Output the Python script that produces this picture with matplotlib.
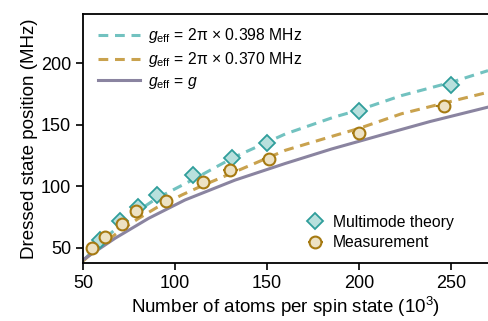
import numpy as np
import matplotlib
matplotlib.use('Agg')
import matplotlib.pyplot as plt

plt.rcParams['font.family'] = ['Liberation Sans', 'DejaVu Sans']
plt.rcParams['mathtext.fontset'] = 'custom'
plt.rcParams['mathtext.rm'] = 'Liberation Sans'
plt.rcParams['mathtext.it'] = 'Liberation Sans:italic'

# theory curves, N in 10^3, position in MHz
n_cyan = [50, 60, 70, 80, 90, 110, 132, 160, 186, 200, 223, 250, 270]
v_cyan = [39, 55, 68, 80, 90, 105.5, 123.5, 142.5, 156, 162, 173.7, 184.5, 194]

n_brown = [50, 60, 70, 80, 90, 104, 115, 130, 160, 187, 200, 223, 250, 270]
v_brown = [39, 52, 63.5, 73.5, 82.5, 93, 100.5, 110, 129.2, 141.3, 147, 158.9, 169, 176.4]

n_solid = [50, 67.5, 85.7, 105.4, 132.6, 159.8, 185, 211.4, 238.6, 270]
v_solid = [40, 57.6, 73.8, 88.7, 104.9, 118.4, 130.2, 141.3, 152.6, 164.3]

# multimode theory points
n_mm = [59, 70, 80, 90, 110, 131, 150, 200, 250]
v_mm = [56, 72, 83.4, 92.7, 108.9, 123, 135.2, 160.8, 182.7]

# measurement points
n_meas = [55, 62, 71, 79, 95, 115, 130, 151, 200, 246]
v_meas = [49.5, 58.4, 69.2, 79.7, 87.8, 103.5, 113.5, 121.7, 143.5, 165.6]
n_err = [2, 2, 2, 2, 3, 3, 4, 4, 4, 4]

c_cyan = '#72c2c0'
c_brown = '#c9a24e'
c_solid = '#8a84a0'

fig = plt.figure(figsize=(4.88, 3.21), dpi=100)
ax = fig.add_axes([0.170, 0.181, 0.830, 0.775])

l1, = ax.plot(n_cyan, v_cyan, '--', color=c_cyan, lw=2.2, dashes=(3.2, 2.2),
              label='$g_{\\mathrm{eff}}$ = 2π × 0.398 MHz')
l2, = ax.plot(n_brown, v_brown, '--', color=c_brown, lw=2.2, dashes=(3.2, 2.2),
              label='$g_{\\mathrm{eff}}$ = 2π × 0.370 MHz')
l3, = ax.plot(n_solid, v_solid, '-', color=c_solid, lw=2.2,
              label='$g_{\\mathrm{eff}}$ = $g$')

m1, = ax.plot(n_mm, v_mm, 'D', ms=8.5, mfc='#b8e0dd', mec='#2f9e9b', mew=1.3,
              ls='none', label='Multimode theory')
m2 = ax.errorbar(n_meas, v_meas, xerr=n_err, fmt='o', ms=8.5, mfc='#ede2c4',
                 mec='#a67a12', mew=1.5, ecolor='#a67a12', elinewidth=1.5,
                 capsize=0, label='Measurement')

ax.set_xlim(50, 270)
ax.set_ylim(37.5, 240)
ax.set_xticks([50, 100, 150, 200, 250])
ax.set_yticks([50, 100, 150, 200])
ax.tick_params(direction='out', length=5, width=1.2, labelsize=13)
for s in ['left', 'bottom', 'top']:
    ax.spines[s].set_linewidth(1.3)
ax.spines['right'].set_visible(False)

ax.set_xlabel('Number of atoms per spin state (10$^3$)', fontsize=13.5, labelpad=2)
ax.set_ylabel('Dressed state position (MHz)', fontsize=13.5, labelpad=2)

leg1 = ax.legend(handles=[l1, l2, l3], loc='upper left', frameon=False,
                 fontsize=11.3, handlelength=2.7, handletextpad=0.5,
                 labelspacing=0.3, borderaxespad=0.3,
                 bbox_to_anchor=(0.01, 0.995))
ax.add_artist(leg1)
ax.legend(handles=[m1, m2], loc='lower right', frameon=False, fontsize=11.3,
          handlelength=1.2, handletextpad=0.5, labelspacing=0.35,
          bbox_to_anchor=(0.95, -0.005))

fig.savefig('out.png', dpi=100)
